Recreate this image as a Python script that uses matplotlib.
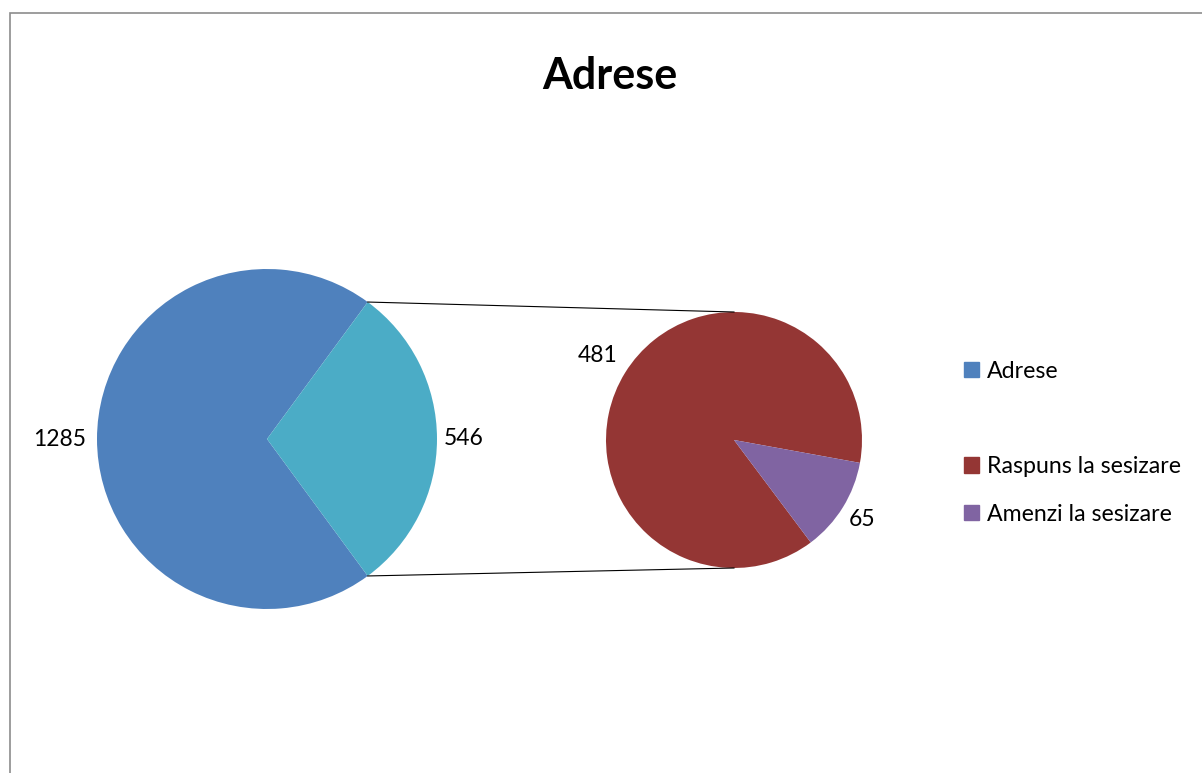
import numpy as np
import matplotlib.pyplot as plt
from matplotlib.patches import Patch, Rectangle

plt.rcParams['font.family'] = ['Lato', 'DejaVu Sans']

title = 'Adrese'
main_labels = ['Adrese', 'Other']
main_values = [1285, 546]
sub_labels = ['Raspuns la sesizare', 'Amenzi la sesizare']
sub_values = [481, 65]
main_colors = ['#4F81BD', '#4BACC6']
sub_colors = ['#943634', '#8064A2']

W, H = 1202, 773
fig = plt.figure(figsize=(W / 100, H / 100), dpi=100)
ax = fig.add_axes([0, 0, 1, 1])

# chart border (only top and left visible in reference)
fig.patches.append(Rectangle((10 / W, -0.1), 1.2, 1.1 - 13 / H, transform=fig.transFigure,
                             fill=False, edgecolor='#8c8c8c', linewidth=1.2))

big_c, big_r = (267, H - 439), 170
small_c, small_r = (734, H - 440), 128

other_span = main_values[1] / sum(main_values) * 360
big_w, _ = ax.pie(main_values, colors=main_colors, center=big_c, radius=big_r,
                  startangle=other_span / 2, counterclock=True,
                  wedgeprops=dict(linewidth=0))
small_w, _ = ax.pie(sub_values, colors=sub_colors, center=small_c, radius=small_r,
                    startangle=-10.3, counterclock=True,
                    wedgeprops=dict(linewidth=0))

# value labels
for wedges, vals, c, r, dists in [(big_w, main_values, big_c, big_r, [1.22, 1.16]),
                                  (small_w, sub_values, small_c, small_r, [1.25, 1.18])]:
    for w, v, d in zip(wedges, vals, dists):
        a = np.deg2rad((w.theta1 + w.theta2) / 2)
        ax.text(c[0] + d * r * np.cos(a), c[1] + d * r * np.sin(a), str(v),
                ha='center', va='center', fontsize=16.5, color='black')

# connector lines from "Other" slice to the secondary pie
o = big_w[1]
for ang, sy in [(o.theta2, 1), (o.theta1, -1)]:
    a = np.deg2rad(ang)
    ax.plot([big_c[0] + big_r * np.cos(a), small_c[0]],
            [big_c[1] + big_r * np.sin(a), small_c[1] + sy * small_r],
            color='black', linewidth=0.8)

ax.set_xlim(0, W)
ax.set_ylim(0, H)
ax.set_aspect('equal')
ax.axis('off')

fig.text(610 / W, 1 - 76 / H, title, ha='center', va='center',
         fontsize=31, fontweight='bold')

handles = [Patch(color=main_colors[0], label=main_labels[0]),
           Patch(color='none', label='Other'),
           Patch(color=sub_colors[0], label=sub_labels[0]),
           Patch(color=sub_colors[1], label=sub_labels[1])]
leg = fig.legend(handles=handles, loc='upper left', bbox_to_anchor=(952 / W, 1 - 349 / H),
                 frameon=False, fontsize=16.7, handlelength=0.65, handleheight=0.65,
                 handletextpad=0.35, labelspacing=1.15, borderpad=0)
leg.get_texts()[1].set_visible(False)

fig.savefig('out.png', dpi=100)
